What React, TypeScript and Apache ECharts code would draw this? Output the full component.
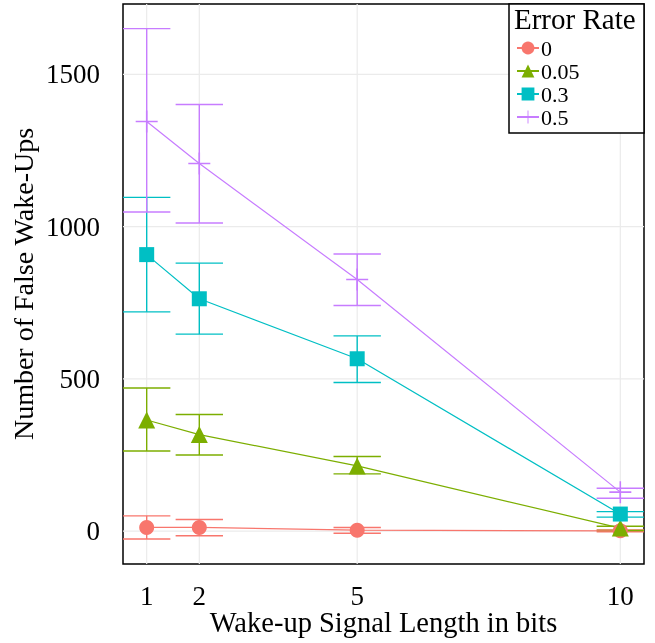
import React, { useEffect, useRef } from "react";
import * as echarts from "echarts";

const xTicks = [1, 2, 5, 10];
const yTicks = [0, 500, 1000, 1500];
const seriesNames = ["0", "0.05", "0.3", "0.5"];
const colors = ["#F8766D", "#7CAE00", "#00BFC4", "#C77CFF"];

const mean0 = [12, 12, 3, 1];
const lo0 = [-26, -15, -7, -2];
const hi0 = [50, 38, 12, 4];

const mean005 = [365, 317, 214, 10];
const lo005 = [263, 250, 188, 2];
const hi005 = [470, 383, 245, 16];

const mean03 = [908, 763, 566, 56];
const lo03 = [720, 647, 488, 46];
const hi03 = [1096, 880, 641, 64];

const mean05 = [1345, 1207, 826, 128];
const lo05 = [1048, 1012, 741, 108];
const hi05 = [1650, 1401, 910, 141];

const means = [mean0, mean005, mean03, mean05];
const lows = [lo0, lo005, lo03, lo05];
const highs = [hi0, hi005, hi03, hi05];

const X_MIN = 0.55;
const X_MAX = 10.45;
const Y_MIN = -108;
const Y_MAX = 1731;
const CAP = 0.45;

const PLUS =
  "path://M9.3,0h1.4v9.3h9.3v1.4h-9.3v9.3h-1.4v-9.3h-9.3v-1.4h9.3z";
const symbols = ["circle", "triangle", "rect", PLUS];
const symbolSizes = [15, 17, 15, 22];

const FONT = "Liberation Serif";

export default function App() {
  const ref = useRef<HTMLDivElement>(null);
  useEffect(() => {
    if (!ref.current) return;
    const chart = echarts.init(ref.current, null, { renderer: "svg" });

    const series: any[] = [];
    series.push({
      type: "custom",
      name: "gridX",
      silent: true,
      z: 0,
      data: xTicks.map((v) => [v, 0]),
      renderItem: (params: any, api: any) => {
        const v = api.value(0);
        const a = api.coord([v, Y_MIN]);
        const b = api.coord([v, Y_MAX]);
        return {
          type: "line",
          shape: { x1: a[0], y1: a[1], x2: b[0], y2: b[1] },
          style: { stroke: "#EBEBEB", lineWidth: 1.2 },
        };
      },
    });
    series.push({
      type: "custom",
      name: "gridY",
      silent: true,
      z: 0,
      data: yTicks.map((v) => [1, v]),
      renderItem: (params: any, api: any) => {
        const v = api.value(1);
        const a = api.coord([X_MIN, v]);
        const b = api.coord([X_MAX, v]);
        return {
          type: "line",
          shape: { x1: a[0], y1: a[1], x2: b[0], y2: b[1] },
          style: { stroke: "#EBEBEB", lineWidth: 1.2 },
        };
      },
    });

    seriesNames.forEach((name, i) => {
      const col = colors[i];
      series.push({
        type: "custom",
        name: "eb" + name,
        silent: true,
        z: 2,
        data: xTicks.map((x, j) => [x, lows[i][j], highs[i][j]]),
        renderItem: (params: any, api: any) => {
          const x = api.value(0);
          const lo = api.value(1);
          const hi = api.value(2);
          const pLo = api.coord([x, lo]);
          const pHi = api.coord([x, hi]);
          const lL = api.coord([x - CAP, lo]);
          const lR = api.coord([x + CAP, lo]);
          const hL = api.coord([x - CAP, hi]);
          const hR = api.coord([x + CAP, hi]);
          const st = { stroke: col, lineWidth: 1.4 };
          return {
            type: "group",
            children: [
              { type: "line", shape: { x1: pLo[0], y1: pLo[1], x2: pHi[0], y2: pHi[1] }, style: st },
              { type: "line", shape: { x1: lL[0], y1: lL[1], x2: lR[0], y2: lR[1] }, style: st },
              { type: "line", shape: { x1: hL[0], y1: hL[1], x2: hR[0], y2: hR[1] }, style: st },
            ],
          };
        },
      });
    });

    seriesNames.forEach((name, i) => {
      series.push({
        type: "line",
        name,
        z: 3,
        data: xTicks.map((x, j) => [x, means[i][j]]),
        symbol: symbols[i],
        symbolSize: symbolSizes[i],
        showSymbol: true,
        lineStyle: { color: colors[i], width: 1.2 },
        itemStyle: { color: colors[i] },
        emphasis: { disabled: true },
      });
    });

    chart.setOption({
      animation: false,
      grid: {
        left: 123,
        top: 4,
        right: 11,
        bottom: 79,
        show: true,
        borderColor: "#000",
        borderWidth: 1.5,
        backgroundColor: "transparent",
        outerBoundsMode: "none",
        containLabel: false,
      },
      xAxis: {
        type: "value",
        min: X_MIN,
        max: X_MAX,
        name: "Wake-up Signal Length in bits",
        nameLocation: "middle",
        nameGap: 45,
        nameMoveOverlap: false,
        nameTextStyle: {
          fontFamily: FONT,
          fontSize: 28.5,
          color: "#000",
          lineHeight: 26,
        },
        axisLine: { show: false },
        axisTick: { show: false, customValues: xTicks },
        splitLine: { show: false },
        axisLabel: {
          customValues: xTicks,
          fontFamily: FONT,
          fontSize: 27,
          lineHeight: 24,
          color: "#000",
          margin: 20,
          formatter: (v: number) => String(v),
        },
      },
      yAxis: {
        type: "value",
        min: Y_MIN,
        max: Y_MAX,
        name: "Number of False Wake-Ups",
        nameLocation: "middle",
        nameGap: 86,
        nameMoveOverlap: false,
        nameTextStyle: { fontFamily: FONT, fontSize: 28, color: "#000" },
        axisLine: { show: false },
        axisTick: { show: false, customValues: yTicks },
        splitLine: { show: false },
        axisLabel: {
          customValues: yTicks,
          fontFamily: FONT,
          fontSize: 27,
          color: "#000",
          margin: 23,
          formatter: (v: number) => String(v),
        },
      },
      legend: {
        data: seriesNames,
        orient: "vertical",
        left: 511,
        top: 32,
        z: 20,
        itemWidth: 22,
        itemHeight: 16,
        itemGap: 1,
        selectedMode: false,
        textStyle: {
          fontFamily: FONT,
          fontSize: 22,
          color: "#000",
          lineHeight: 22,
          padding: [0, 0, 0, -3],
        },
      },
      graphic: [
        {
          type: "rect",
          shape: { x: 509, y: 4, width: 135, height: 129 },
          style: { fill: "#fff", stroke: "#000", lineWidth: 1.5 },
          z: 5,
        },
        {
          type: "text",
          x: 514,
          y: 19,
          style: {
            text: "Error Rate",
            fontFamily: FONT,
            fontSize: 29,
            fill: "#000",
            verticalAlign: "middle",
          },
          z: 6,
        },
      ],
      series,
    });
    return () => chart.dispose();
  }, []);
  return (
    <div
      ref={ref}
      style={{ position: "fixed", left: 0, top: 0, width: 655, height: 643 }}
    />
  );
}
